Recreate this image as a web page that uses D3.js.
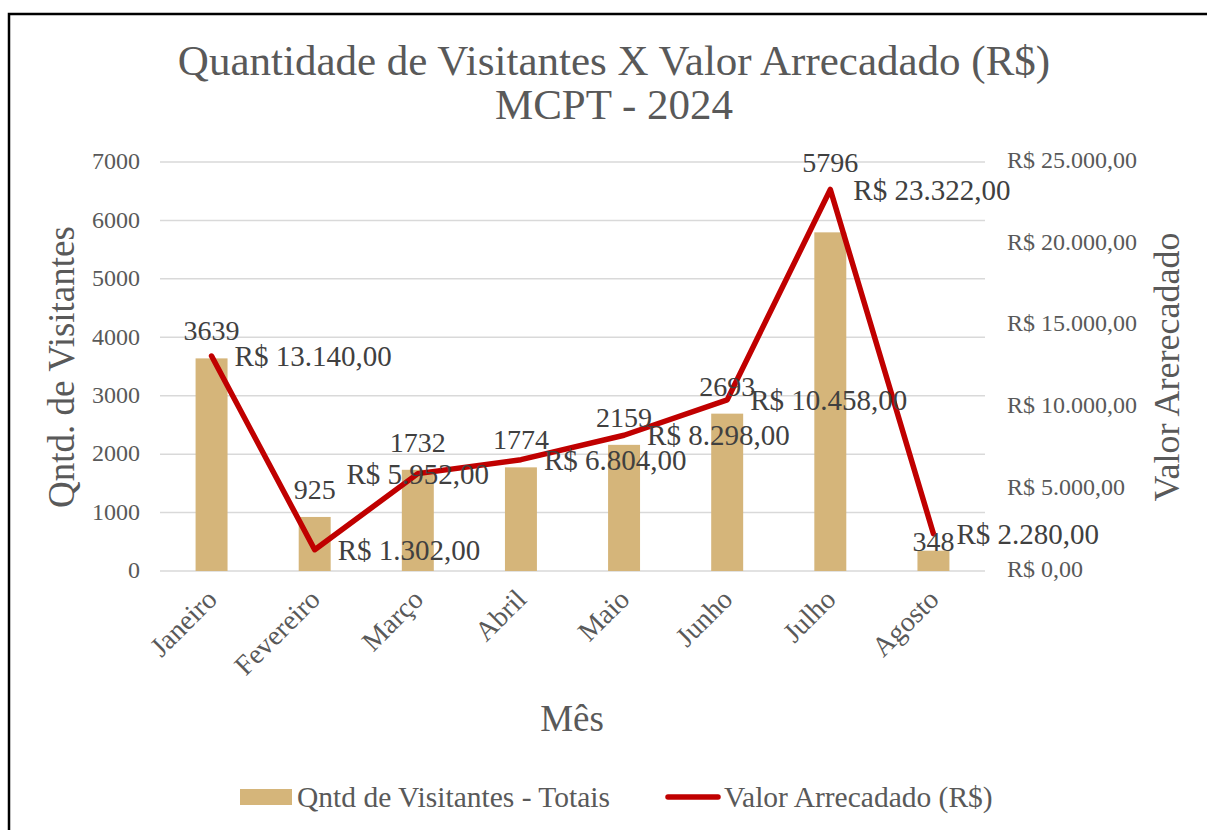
<!DOCTYPE html>
<html>
<head>
<meta charset="utf-8">
<script src="https://cdn.jsdelivr.net/npm/d3@7"></script>
<style>
  body { margin: 0; background: #fff; }
</style>
</head>
<body>
<div id="chart"></div>
<script>
// data
const months = ["Janeiro", "Fevereiro", "Março", "Abril", "Maio", "Junho", "Julho", "Agosto"];
const visitantes = [3639, 925, 1732, 1774, 2159, 2693, 5796, 348];
const valores = [13140, 1302, 5952, 6804, 8298, 10458, 23322, 2280];
const leftTicks = [0, 1000, 2000, 3000, 4000, 5000, 6000, 7000];
const rightTicks = [0, 5000, 10000, 15000, 20000, 25000];

// set the dimensions and margins of the graph
const margin = {top: 162, right: 222, bottom: 259, left: 160},
      width = 1207 - margin.left - margin.right,
      height = 830 - margin.top - margin.bottom;

const grey = "#595959", dark = "#404040";
const serif = "'Liberation Serif', 'Times New Roman', serif";

const root = d3.select("#chart")
               .append("svg")
               .attr("width", 1207)
               .attr("height", 830)
               .style("font-family", serif);

// chart frame
root.append("rect")
    .attr("x", 9).attr("y", 14)
    .attr("width", 1300).attr("height", 900)
    .attr("fill", "none")
    .attr("stroke", "#000")
    .attr("stroke-width", 2.5);

// title
root.append("text")
    .attr("x", 614).attr("y", 75)
    .attr("text-anchor", "middle")
    .attr("fill", grey)
    .style("font-family", serif)
    .style("font-size", "43px")
    .text("Quantidade de Visitantes X Valor Arrecadado (R$)");
root.append("text")
    .attr("x", 614).attr("y", 119)
    .attr("text-anchor", "middle")
    .attr("fill", grey)
    .style("font-family", serif)
    .style("font-size", "43px")
    .text("MCPT - 2024");

const svg = root.append("g")
                .attr("transform", `translate(${margin.left},${margin.top})`);

// scales
const x = d3.scaleBand()
            .domain(months)
            .range([0, width])
            .paddingInner(0.69)
            .paddingOuter(0.345);

const y1 = d3.scaleLinear().domain([0, 7000]).range([height, 0]);
const y2 = d3.scaleLinear().domain([0, 25000]).range([height, 0]);

const brl = d3.formatLocale({decimal: ",", thousands: ".", grouping: [3], currency: ["R$ ", ""]});
const money = brl.format("$,.2f");

// gridlines
svg.append("g")
   .selectAll("line")
   .data(leftTicks)
   .join("line")
   .attr("x1", 0).attr("x2", width)
   .attr("y1", d => y1(d)).attr("y2", d => y1(d))
   .attr("stroke", "#d9d9d9")
   .attr("stroke-width", 1.5);

// left axis
const axL = svg.append("g")
   .call(d3.axisLeft(y1).tickValues(leftTicks).tickFormat(d3.format("d")).tickSize(0).tickPadding(20));
axL.select(".domain").remove();
axL.selectAll("text")
   .attr("fill", grey)
   .attr("dy", "0.28em")
   .style("font-size", "24px")
   .style("font-family", serif);

// right axis
const axR = svg.append("g")
   .attr("transform", `translate(${width},0)`)
   .call(d3.axisRight(y2).tickValues(rightTicks).tickFormat(money).tickSize(0).tickPadding(22));
axR.select(".domain").remove();
axR.selectAll("text")
   .attr("fill", grey)
   .attr("dy", "0.22em")
   .style("font-size", "24px")
   .style("font-family", serif);

// bottom axis
const axB = svg.append("g")
   .attr("transform", `translate(0,${height})`)
   .call(d3.axisBottom(x).tickSize(0));
axB.select(".domain").remove();
axB.selectAll("text")
   .attr("fill", grey)
   .style("font-size", "28px")
   .style("font-family", serif)
   .attr("text-anchor", "end")
   .attr("dy", null)
   .attr("y", 0)
   .attr("transform", "translate(7,30)rotate(-45)");

// axis titles
root.append("text")
    .attr("transform", "translate(74,367)rotate(-90)")
    .attr("text-anchor", "middle")
    .attr("fill", grey)
    .style("font-family", serif)
    .style("font-size", "37px")
    .text("Qntd. de Visitantes");
root.append("text")
    .attr("transform", "translate(1179,367)rotate(-90)")
    .attr("text-anchor", "middle")
    .attr("fill", grey)
    .style("font-family", serif)
    .style("font-size", "36px")
    .text("Valor Arerecadado");
root.append("text")
    .attr("x", 572).attr("y", 731)
    .attr("text-anchor", "middle")
    .attr("fill", grey)
    .style("font-family", serif)
    .style("font-size", "37px")
    .text("Mês");

// bars
svg.selectAll(".bar")
   .data(months)
   .join("rect")
   .attr("class", "bar")
   .attr("x", d => x(d))
   .attr("y", (d, i) => y1(visitantes[i]))
   .attr("width", x.bandwidth())
   .attr("height", (d, i) => height - y1(visitantes[i]))
   .attr("fill", "#d5b57a");

// line
const cx = d => x(d) + x.bandwidth() / 2;
const line = d3.line()
               .x(d => cx(d))
               .y((d, i) => y2(valores[i]));

svg.append("path")
   .datum(months)
   .attr("d", line)
   .attr("fill", "none")
   .attr("stroke", "#c00000")
   .attr("stroke-width", 5.5)
   .style("stroke-linejoin", "round")
   .style("stroke-linecap", "round");

// bar labels (a few were moved by hand in the original)
const barNudge = {"Julho": -60, "Agosto": 0};
svg.selectAll(".barlabel")
   .data(months)
   .join("text")
   .attr("class", "barlabel")
   .attr("x", d => cx(d))
   .attr("y", (d, i) => y1(visitantes[i]) + (d in barNudge ? barNudge[d] : -18))
   .attr("text-anchor", "middle")
   .attr("fill", dark)
   .style("font-family", serif)
   .style("font-size", "28px")
   .text((d, i) => visitantes[i]);

// line labels, right of the point except Março (centered)
svg.selectAll(".linelabel")
   .data(months)
   .join("text")
   .attr("class", "linelabel")
   .attr("x", d => d == "Março" ? cx(d) : cx(d) + 23)
   .attr("y", (d, i) => y2(valores[i]))
   .attr("dy", "0.35em")
   .attr("text-anchor", d => d == "Março" ? "middle" : "start")
   .attr("fill", dark)
   .style("font-family", serif)
   .style("font-size", "29px")
   .text((d, i) => money(valores[i]));

// legend
const legend = root.append("g");
legend.append("rect")
      .attr("x", 240).attr("y", 789)
      .attr("width", 52).attr("height", 16)
      .attr("fill", "#d5b57a");
legend.append("text")
      .attr("x", 297).attr("y", 807)
      .attr("fill", grey)
      .style("font-family", serif)
      .style("font-size", "29.5px")
      .text("Qntd de Visitantes - Totais");
legend.append("line")
      .attr("x1", 668).attr("x2", 718)
      .attr("y1", 797).attr("y2", 797)
      .attr("stroke", "#c00000")
      .attr("stroke-width", 5.5)
      .style("stroke-linecap", "round");
legend.append("text")
      .attr("x", 724).attr("y", 807)
      .attr("fill", grey)
      .style("font-family", serif)
      .style("font-size", "29.5px")
      .text("Valor Arrecadado (R$)");
</script>
</body>
</html>
